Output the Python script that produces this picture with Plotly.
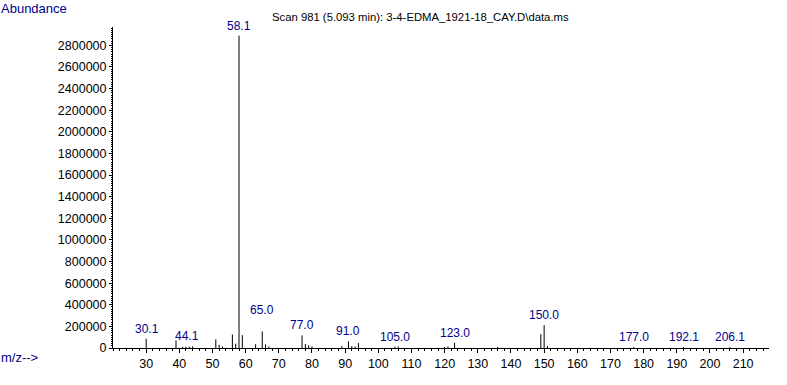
import plotly.graph_objects as go

# ---- data ----
mz = [30, 39, 41, 42, 43, 44, 51, 52, 53, 56, 57, 58, 59, 63, 65, 66, 67,
      77, 78, 79, 80, 89, 91, 92, 93, 94, 105, 106, 120, 121, 123, 136,
      149, 150, 151, 177, 192, 206]
abundance = [85000, 70000, 10000, 12000, 12000, 15000, 80000, 30000, 15000,
             125000, 40000, 2890000, 119000, 35000, 153000, 34000, 15000,
             116000, 37000, 25000, 15000, 18000, 61000, 18000, 14000, 46000,
             12000, 14000, 10000, 14000, 48000, 10000,
             128000, 212000, 18000, 9000, 8000, 8000]

label_mz = [30.1, 44.1, 58.1, 65.0, 77.0, 91.0, 105.0, 123.0, 150.0, 177.0, 192.1, 206.1]
label_text = ["30.1", "44.1", "58.1", "65.0", "77.0", "91.0", "105.0", "123.0",
              "150.0", "177.0", "192.1", "206.1"]

y_ticks = list(range(0, 2800001, 200000))
x_ticks = list(range(30, 211, 10))

title_text = "Scan 981 (5.093 min): 3-4-EDMA_1921-18_CAY.D\\data.ms"

# ---- build ----
NAVY = "#00008B"
FONT = "Liberation Sans, Arial, sans-serif"

xs, ys = [], []
for m, a in zip(mz, abundance):
    xs += [m, m, None]
    ys += [0, a, None]

fig = go.Figure()
fig.add_trace(go.Scatter(x=xs, y=ys, mode="lines",
                         line=dict(color="black", width=1),
                         hoverinfo="skip", showlegend=False))

lookup = dict(zip(mz, abundance))
extra_shift = {"65.0": 11}
x_shift = {"44.1": -6}
for lm, lt in zip(label_mz, label_text):
    yv = lookup.get(int(round(lm)), 0)
    fig.add_annotation(x=lm, y=yv, text=lt, showarrow=False,
                       xanchor="center", yanchor="bottom",
                       yshift=1 + extra_shift.get(lt, 0),
                       xshift=x_shift.get(lt, 0),
                       font=dict(family=FONT, size=12, color=NAVY))

fig.add_annotation(xref="paper", yref="paper", x=0.24, y=1.031,
                   text=title_text, showarrow=False, xanchor="left",
                   yanchor="middle", font=dict(family=FONT, size=11.3, color="black"))
fig.add_annotation(xref="paper", yref="paper", x=-0.1733, y=1.059,
                   text="Abundance", showarrow=False, xanchor="left",
                   yanchor="middle", font=dict(family=FONT, size=13, color=NAVY))
fig.add_annotation(xref="paper", yref="paper", x=-0.1733, y=-0.031,
                   text="m/z-->", showarrow=False, xanchor="left",
                   yanchor="middle", font=dict(family=FONT, size=13, color=NAVY))

fig.update_layout(
    width=787, height=385,
    margin=dict(l=113, r=18, t=27, b=37),
    paper_bgcolor="white", plot_bgcolor="white",
    font=dict(family=FONT, size=12.5, color="black"),
)
fig.update_xaxes(range=[20, 217.8], tickvals=x_ticks,
                 ticktext=[str(v) for v in x_ticks],
                 showgrid=False, zeroline=False,
                 showline=True, linecolor="black", linewidth=1,
                 ticks="outside", ticklen=4, tickcolor="black",
                 minor=dict(dtick=2, tick0=0, ticks="outside", ticklen=2,
                            tickcolor="black", showgrid=False),
                 tickfont=dict(size=12.5, color="black"))
fig.update_yaxes(range=[0, 2970000], tickvals=y_ticks,
                 ticktext=[str(v) for v in y_ticks],
                 showgrid=False, zeroline=False,
                 showline=True, linecolor="black", linewidth=1,
                 ticks="outside", ticklen=3, tickcolor="black",
                 minor=dict(dtick=20000, tick0=0, ticks="outside", ticklen=1,
                            tickcolor="black", showgrid=False),
                 tickfont=dict(size=12.5, color="black"))

# remove the page's default 8px body margin so the figure fills the window
fig.write_html("out.html",
               config={"displayModeBar": False},
               post_script="document.body.style.margin='0';"
                           "document.body.style.overflow='hidden';")
